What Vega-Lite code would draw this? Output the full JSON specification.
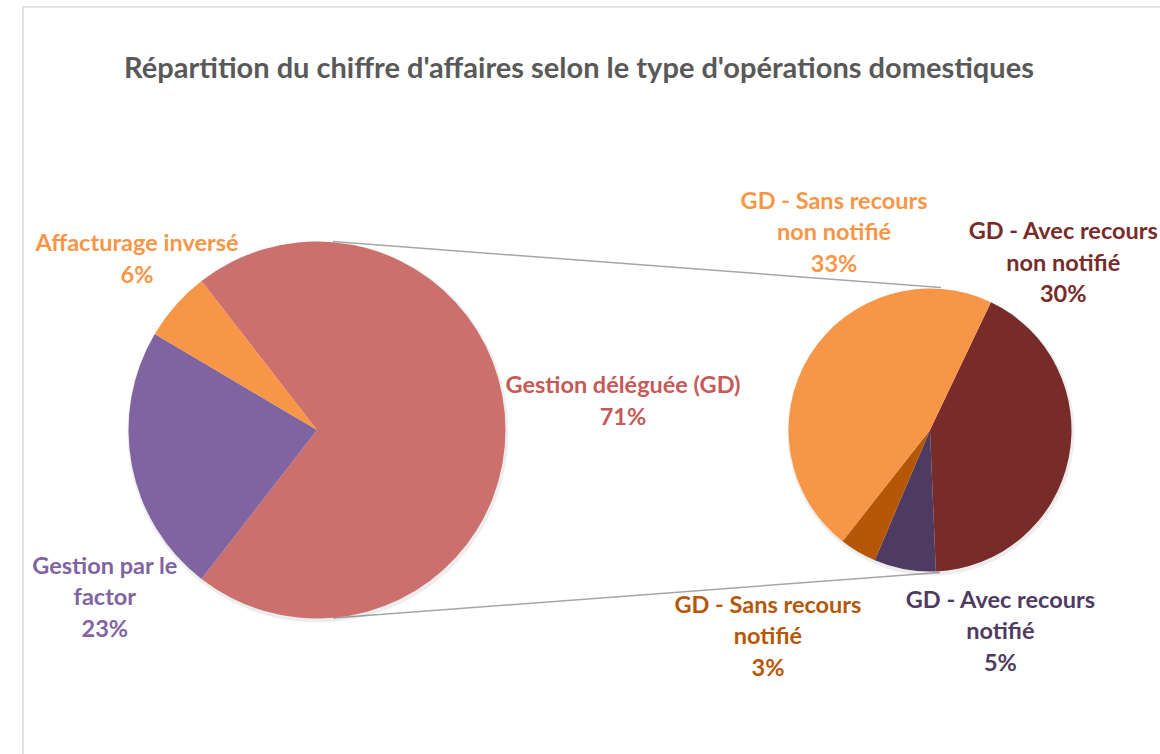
{
  "$schema": "https://vega.github.io/schema/vega-lite/v6.json",
  "autosize": "none",
  "width": 1150,
  "height": 846,
  "padding": {"left": 23, "top": 7, "right": 0, "bottom": 0},
  "background": "white",
  "config": {"view": {"stroke": "#D9D9D9", "strokeWidth": 1.5}, "font": "Lato"},
  "title": {
    "text": "Répartition du chiffre d'affaires selon le type d'opérations domestiques",
    "font": "Lato", "fontSize": 29, "fontWeight": "bold", "color": "#595959",
    "frame": "group", "anchor": "middle", "dx": -19, "offset": -100, "baseline": "alphabetic"
  },
  "datasets": {
    "principal": [
      {"pie": "principal", "categorie": "Gestion déléguée (GD)", "etiquette": "Gestion déléguée (GD)", "part": 71},
      {"pie": "principal", "categorie": "Gestion par le factor", "etiquette": "Gestion par le\nfactor", "part": 23},
      {"pie": "principal", "categorie": "Affacturage inversé", "etiquette": "Affacturage inversé", "part": 6}
    ],
    "detail": [
      {"pie": "détail", "categorie": "GD - Avec recours non notifié", "etiquette": "GD - Avec recours\nnon notifié", "part": 30},
      {"pie": "détail", "categorie": "GD - Avec recours notifié", "etiquette": "GD - Avec recours\nnotifié", "part": 5},
      {"pie": "détail", "categorie": "GD - Sans recours notifié", "etiquette": "GD - Sans recours\nnotifié", "part": 3},
      {"pie": "détail", "categorie": "GD - Sans recours non notifié", "etiquette": "GD - Sans recours\nnon notifié", "part": 33}
    ],
    "connecteurs": [{"de": "principal", "vers": "détail"}]
  },
  "resolve": {"scale": {"theta": "independent"}},
  "layer": [
    {
      "data": {"name": "connecteurs"},
      "encoding": {
        "x": {"field": "de", "type": "nominal", "scale": {"type": "point", "domain": ["principal", "détail"], "range": [294, 907], "padding": 0}, "axis": null},
        "x2": {"field": "vers"}
      },
      "layer": [
        {
          "mark": {"type": "rule", "color": "#A6A6A6", "strokeWidth": 1.5, "xOffset": 16, "x2Offset": 11},
          "encoding": {
            "y": {"datum": 188.5, "type": "quantitative", "scale": {"domain": [-423, 423]}, "axis": null},
            "y2": {"datum": 142.5}
          }
        },
        {
          "mark": {"type": "rule", "color": "#A6A6A6", "strokeWidth": 1.5, "xOffset": 16, "x2Offset": 10},
          "encoding": {
            "y": {"datum": -188, "type": "quantitative", "scale": {"domain": [-423, 423]}, "axis": null},
            "y2": {"datum": -142.5}
          }
        }
      ]
    },
    {
      "data": {"name": "principal"},
      "transform": [
        {"stack": "part", "groupby": ["pie"], "offset": "normalize", "as": ["debut", "fin"]},
        {"calculate": "(datum.debut + datum.fin) / 2", "as": "milieu"},
        {"calculate": "datum.etiquette + '\\n' + format(datum.part / 100, '.0%')", "as": "texte"}
      ],
      "encoding": {
        "x": {"field": "pie", "type": "nominal", "scale": {"type": "point", "domain": ["principal", "détail"], "range": [294, 907], "padding": 0}, "axis": null}
      },
      "layer": [
        {
          "mark": {"type": "arc", "outerRadius": 190.5, "color": "#000000", "opacity": 0.07, "xOffset": 1, "yOffset": 2},
          "encoding": {
            "theta": {"field": "debut", "type": "quantitative", "scale": {"domain": [0, 1], "range": [-0.65973, 5.62346]}},
            "theta2": {"field": "fin"}
          }
        },
        {
          "mark": {"type": "arc", "outerRadius": 188.5, "stroke": null},
          "encoding": {
            "theta": {"field": "debut", "type": "quantitative", "scale": {"domain": [0, 1], "range": [-0.65973, 5.62346]}},
            "theta2": {"field": "fin"},
            "color": {
              "field": "categorie", "type": "nominal", "legend": null,
              "scale": {
                "domain": ["Gestion déléguée (GD)", "Gestion par le factor", "Affacturage inversé", "GD - Avec recours non notifié", "GD - Avec recours notifié", "GD - Sans recours notifié", "GD - Sans recours non notifié"],
                "range": ["#CC706E", "#8064A2", "#F79646", "#772C2A", "#4F3B62", "#B65708", "#F79646"]
              }
            }
          }
        },
        {
          "transform": [{"filter": "datum.categorie === 'Gestion déléguée (GD)'"}],
          "mark": {"type": "text", "radius": 306, "dy": -37, "align": "center", "baseline": "alphabetic", "lineBreak": "\n", "lineHeight": 31.5, "font": "Lato", "fontSize": 23.5, "fontWeight": "bold", "color": "#C55A57"},
          "encoding": {"theta": {"field": "milieu", "type": "quantitative"}, "text": {"field": "texte"}}
        },
        {
          "transform": [{"filter": "datum.categorie === 'Gestion par le factor'"}],
          "mark": {"type": "text", "radius": 216, "dy": 103.5, "align": "center", "baseline": "alphabetic", "lineBreak": "\n", "lineHeight": 31.5, "font": "Lato", "fontSize": 23.5, "fontWeight": "bold", "color": "#8064A2"},
          "encoding": {"theta": {"field": "milieu", "type": "quantitative"}, "text": {"field": "texte"}}
        },
        {
          "transform": [{"filter": "datum.categorie === 'Affacturage inversé'"}],
          "mark": {"type": "text", "radius": 240, "dy": -20, "align": "center", "baseline": "alphabetic", "lineBreak": "\n", "lineHeight": 31.5, "font": "Lato", "fontSize": 23.5, "fontWeight": "bold", "color": "#F79646"},
          "encoding": {"theta": {"field": "milieu", "type": "quantitative"}, "text": {"field": "texte"}}
        }
      ]
    },
    {
      "data": {"name": "detail"},
      "transform": [
        {"stack": "part", "groupby": ["pie"], "offset": "normalize", "as": ["debut", "fin"]},
        {"calculate": "(datum.debut + datum.fin) / 2", "as": "milieu"},
        {"calculate": "datum.etiquette + '\\n' + format(datum.part / 100, '.0%')", "as": "texte"}
      ],
      "encoding": {
        "x": {"field": "pie", "type": "nominal", "scale": {"type": "point", "domain": ["principal", "détail"], "range": [294, 907], "padding": 0}, "axis": null}
      },
      "layer": [
        {
          "mark": {"type": "arc", "outerRadius": 143.5, "color": "#000000", "opacity": 0.07, "xOffset": 1, "yOffset": 2},
          "encoding": {
            "theta": {"field": "debut", "type": "quantitative", "scale": {"domain": [0, 1], "range": [0.44506, 6.72825]}},
            "theta2": {"field": "fin"}
          }
        },
        {
          "mark": {"type": "arc", "outerRadius": 141.5, "stroke": null},
          "encoding": {
            "theta": {"field": "debut", "type": "quantitative", "scale": {"domain": [0, 1], "range": [0.44506, 6.72825]}},
            "theta2": {"field": "fin"},
            "color": {
              "field": "categorie", "type": "nominal", "legend": null,
              "scale": {
                "domain": ["Gestion déléguée (GD)", "Gestion par le factor", "Affacturage inversé", "GD - Avec recours non notifié", "GD - Avec recours notifié", "GD - Sans recours notifié", "GD - Sans recours non notifié"],
                "range": ["#CC706E", "#8064A2", "#F79646", "#772C2A", "#4F3B62", "#B65708", "#F79646"]
              }
            }
          }
        },
        {
          "transform": [{"filter": "datum.categorie === 'GD - Avec recours non notifié'"}],
          "mark": {"type": "text", "radius": 136, "dy": -218, "align": "center", "baseline": "alphabetic", "lineBreak": "\n", "lineHeight": 31.5, "font": "Lato", "fontSize": 23.5, "fontWeight": "bold", "color": "#772C2A"},
          "encoding": {"theta": {"field": "milieu", "type": "quantitative"}, "text": {"field": "texte"}}
        },
        {
          "transform": [{"filter": "datum.categorie === 'GD - Avec recours notifié'"}],
          "mark": {"type": "text", "radius": 205, "dx": 107, "dy": -24, "align": "center", "baseline": "alphabetic", "lineBreak": "\n", "lineHeight": 31.5, "font": "Lato", "fontSize": 23.5, "fontWeight": "bold", "color": "#4F3B62"},
          "encoding": {"theta": {"field": "milieu", "type": "quantitative"}, "text": {"field": "texte"}}
        },
        {
          "transform": [{"filter": "datum.categorie === 'GD - Sans recours notifié'"}],
          "mark": {"type": "text", "radius": 240, "dx": -40, "dy": -24, "align": "center", "baseline": "alphabetic", "lineBreak": "\n", "lineHeight": 31.5, "font": "Lato", "fontSize": 23.5, "fontWeight": "bold", "color": "#B65708"},
          "encoding": {"theta": {"field": "milieu", "type": "quantitative"}, "text": {"field": "texte"}}
        },
        {
          "transform": [{"filter": "datum.categorie === 'GD - Sans recours non notifié'"}],
          "mark": {"type": "text", "radius": 160, "dx": 40, "dy": -137, "align": "center", "baseline": "alphabetic", "lineBreak": "\n", "lineHeight": 31.5, "font": "Lato", "fontSize": 23.5, "fontWeight": "bold", "color": "#F79646"},
          "encoding": {"theta": {"field": "milieu", "type": "quantitative"}, "text": {"field": "texte"}}
        }
      ]
    }
  ]
}
